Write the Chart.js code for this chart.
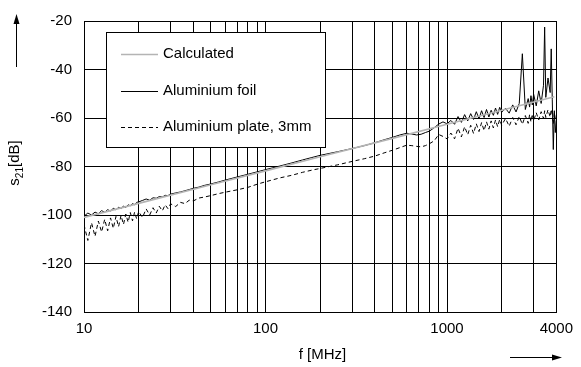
<!DOCTYPE html>
<html>
<head>
<meta charset="utf-8">
<script src="https://cdn.jsdelivr.net/npm/chart.js@4"></script>
<style>
  body { margin: 0; background: #fff; }
  #wrap { width: 581px; height: 367px; }
</style>
</head>
<body>
<div id="wrap"><canvas id="s21-chart" width="581" height="367"></canvas></div>
<script>
// measured frequencies [MHz]
var freq = [
  10, 10.5, 11, 11.5, 12, 12.5, 13, 13.5, 14, 14.5, 15, 15.5, 16, 16.5, 17, 17.5, 18, 18.5, 19, 19.5, 20,
  21, 22, 23, 24, 25, 26, 27, 28, 29, 30,
  32, 34, 36, 38, 40, 43, 46, 50, 55, 60,
  70, 80, 90, 100, 120, 140, 160, 180, 200,
  250, 300, 350, 400, 450, 500, 550, 600, 640, 680, 720, 760, 800, 850, 900, 950, 1000,
  1050, 1100, 1150, 1200, 1250, 1300, 1350, 1400, 1450, 1500, 1550, 1600, 1650, 1700, 1750, 1800, 1850, 1900, 1950, 2000,
  2100, 2200, 2300, 2400, 2500, 2600, 2700, 2800, 2850, 2900, 2950, 3000, 3100, 3200, 3300, 3400, 3450, 3500, 3600, 3700, 3750, 3800, 3850, 3900, 3950, 4000
];
var foil = [
  -100.5, -99.2, -100.0, -98.8, -99.5, -98.2, -98.9, -97.8, -98.4, -97.2, -97.9, -96.8, -97.4, -96.3, -96.9, -95.8, -96.2, -95.3, -95.8, -94.8, -94.6,
  -94.0, -93.4, -93.9, -92.9, -93.1, -92.4, -92.6, -91.9, -92.0, -91.4,
  -90.9, -90.5, -90.0, -89.5, -89.0, -88.5, -87.8, -87.2, -86.4, -85.6,
  -84.3, -83.2, -82.2, -81.3, -79.8, -78.5, -77.3, -76.3, -75.4,
  -73.9, -72.6, -71.4, -70.2, -69.0, -68.0, -67.0, -66.3, -66.6, -67.0, -66.7, -66.0, -65.4, -64.0, -62.5, -61.6, -62.4,
  -61.0, -62.6, -59.4, -61.8, -58.6, -61.2, -58.2, -60.6, -57.4, -60.3, -57.0, -59.8, -56.5, -59.6, -56.8, -58.9, -55.9, -58.5, -55.6, -57.6,
  -56.0, -58.0, -54.6, -57.5, -54.0, -33.5, -56.5, -52.0, -55.5, -50.8, -54.6, -50.2, -55.0, -48.8, -54.0, -46.5, -22.5, -51.5, -43.5, -49.5, -31.5, -52.5, -73.0, -57.0, -66.0, -61.0
];
var plate = [
  -104.0, -110.5, -103.2, -108.8, -102.5, -107.0, -101.8, -106.5, -101.2, -105.5, -100.6, -104.8, -100.2, -103.9, -99.6, -103.0, -99.0, -102.4, -98.8, -101.6, -98.6,
  -101.0, -97.5, -100.0, -97.0, -99.2, -96.4, -98.3, -95.8, -97.4, -95.4,
  -96.5, -94.8, -95.3, -93.9, -94.2, -93.0, -92.6, -92.0, -91.2, -90.6,
  -89.6, -88.6, -87.3, -86.3, -84.7, -83.6, -82.4, -81.5, -80.8,
  -79.3, -77.9, -76.8, -75.7, -74.4, -73.3, -72.2, -71.2, -71.4, -71.7, -71.9, -71.4, -70.6, -69.4, -66.8, -67.6, -68.6,
  -66.2, -68.6, -64.2, -67.8, -63.6, -66.9, -63.0, -66.4, -62.4, -65.6, -61.9, -65.2, -61.6, -64.6, -61.2, -64.1, -60.8, -63.6, -60.6, -63.0,
  -60.2, -63.4, -59.8, -62.8, -59.4, -62.6, -59.0, -62.2, -58.6, -61.6, -58.4, -61.2, -57.8, -60.8, -57.4, -60.2, -57.0, -59.8, -56.6, -59.6, -56.4, -58.8, -62.5, -57.8, -60.4, -58.6
];
var calcFreq = [10, 20, 50, 100, 200, 500, 1000, 2000, 3900];
var calc = [-101, -95.2, -87.5, -81.8, -76, -68.4, -62.6, -56.8, -51.2];

var names = ['Calculated', 'Aluminium foil', 'Aluminium plate, 3mm'];
var xGrid = [10, 20, 30, 40, 50, 60, 70, 80, 90, 100, 200, 300, 400, 500, 600, 700, 800, 900, 1000, 2000, 3000, 4000];
var xLabels = [10, 100, 1000, 4000];
var yTicks = [-140, -120, -100, -80, -60, -40, -20];

var FONT = '"Liberation Sans", Arial, sans-serif';
Chart.defaults.font.family = FONT;
Chart.defaults.font.size = 15;
Chart.defaults.color = '#000';

function pts(xs, ys) {
  return xs.map(function (x, i) { return { x: x, y: ys[i] }; });
}

var styles = [
  { borderColor: '#b4b4b4', borderWidth: 1.6, borderDash: [] },
  { borderColor: '#000', borderWidth: 1, borderDash: [] },
  { borderColor: '#000', borderWidth: 1, borderDash: [4, 3] }
];

// titles, arrows and the boxed legend
var extras = {
  id: 'extras',
  afterDraw: function (chart) {
    var ctx = chart.ctx;
    ctx.save();
    ctx.fillStyle = '#000';
    ctx.strokeStyle = '#000';
    ctx.lineWidth = 1;

    // y title s21[dB], rotated
    ctx.save();
    ctx.translate(19, 163);
    ctx.rotate(-Math.PI / 2);
    ctx.textBaseline = 'alphabetic';
    ctx.font = '15px ' + FONT;
    var w1 = ctx.measureText('s').width;
    var w3 = ctx.measureText('[dB]').width;
    ctx.font = '10px ' + FONT;
    var w2 = ctx.measureText('21').width;
    var x0 = -(w1 + w2 + w3) / 2;
    ctx.font = '15px ' + FONT;
    ctx.fillText('s', x0, 0);
    ctx.font = '10px ' + FONT;
    ctx.fillText('21', x0 + w1, 4);
    ctx.font = '15px ' + FONT;
    ctx.fillText('[dB]', x0 + w1 + w2, 0);
    ctx.restore();

    // x title
    ctx.font = '15px ' + FONT;
    ctx.textAlign = 'center';
    ctx.textBaseline = 'middle';
    ctx.fillText('f [MHz]', 322.5, 355);

    // arrows
    ctx.beginPath();
    ctx.moveTo(16.5, 67);
    ctx.lineTo(16.5, 22);
    ctx.stroke();
    ctx.beginPath();
    ctx.moveTo(16.5, 14);
    ctx.lineTo(13.5, 24);
    ctx.lineTo(19.5, 24);
    ctx.closePath();
    ctx.fill();

    ctx.beginPath();
    ctx.moveTo(510, 357.5);
    ctx.lineTo(554, 357.5);
    ctx.stroke();
    ctx.beginPath();
    ctx.moveTo(562, 357.5);
    ctx.lineTo(552, 354.5);
    ctx.lineTo(552, 360.5);
    ctx.closePath();
    ctx.fill();

    // legend box
    ctx.fillStyle = '#fff';
    ctx.fillRect(106, 32, 220, 116);
    ctx.strokeStyle = '#000';
    ctx.strokeRect(106.5, 32.5, 219, 115);
    var rows = [54, 91, 127];
    for (var i = 0; i < names.length; i++) {
      ctx.save();
      ctx.strokeStyle = styles[i].borderColor;
      ctx.lineWidth = styles[i].borderWidth;
      ctx.setLineDash(styles[i].borderDash);
      ctx.beginPath();
      ctx.moveTo(121, rows[i] + 0.5);
      ctx.lineTo(158, rows[i] + 0.5);
      ctx.stroke();
      ctx.restore();
      ctx.fillStyle = '#000';
      ctx.textAlign = 'left';
      ctx.textBaseline = 'middle';
      ctx.fillText(names[i], 163, rows[i]);
    }
    ctx.restore();
  }
};

var ctx = document.getElementById('s21-chart').getContext('2d');
var chart = new Chart(ctx, {
  type: 'line',
  data: {
    datasets: [{
      label: names[0],
      data: pts(calcFreq, calc),
      borderColor: styles[0].borderColor,
      borderWidth: styles[0].borderWidth,
      pointRadius: 0,
      order: 0
    }, {
      label: names[1],
      data: pts(freq, foil),
      borderColor: styles[1].borderColor,
      borderWidth: styles[1].borderWidth,
      pointRadius: 0,
      order: 1
    }, {
      label: names[2],
      data: pts(freq, plate),
      borderColor: styles[2].borderColor,
      borderWidth: styles[2].borderWidth,
      borderDash: styles[2].borderDash,
      pointRadius: 0,
      order: 2
    }]
  },
  options: {
    responsive: false,
    animation: false,
    layout: { padding: { top: 14, right: 20, left: 0, bottom: 0 } },
    plugins: { legend: { display: false }, tooltip: { enabled: false } },
    scales: {
      x: {
        type: 'logarithmic',
        min: 10,
        max: 4000,
        afterBuildTicks: function (scale) {
          scale.ticks = xGrid.map(function (v) { return { value: v }; });
        },
        afterFit: function (scale) { scale.height = 55; },
        grid: { color: '#000', lineWidth: 1, drawTicks: false },
        border: { color: '#000' },
        ticks: {
          autoSkip: false,
          maxRotation: 0,
          padding: 8,
          callback: function (v) { return xLabels.indexOf(v) >= 0 ? String(v) : ''; }
        }
      },
      y: {
        min: -140,
        max: -20,
        afterBuildTicks: function (scale) {
          scale.ticks = yTicks.map(function (v) { return { value: v }; });
        },
        afterFit: function (scale) { scale.width = 84; },
        grid: { color: '#000', lineWidth: 1, drawTicks: false },
        border: { color: '#000' },
        ticks: { padding: 12 }
      }
    }
  },
  plugins: [extras]
});
</script>
</body>
</html>
